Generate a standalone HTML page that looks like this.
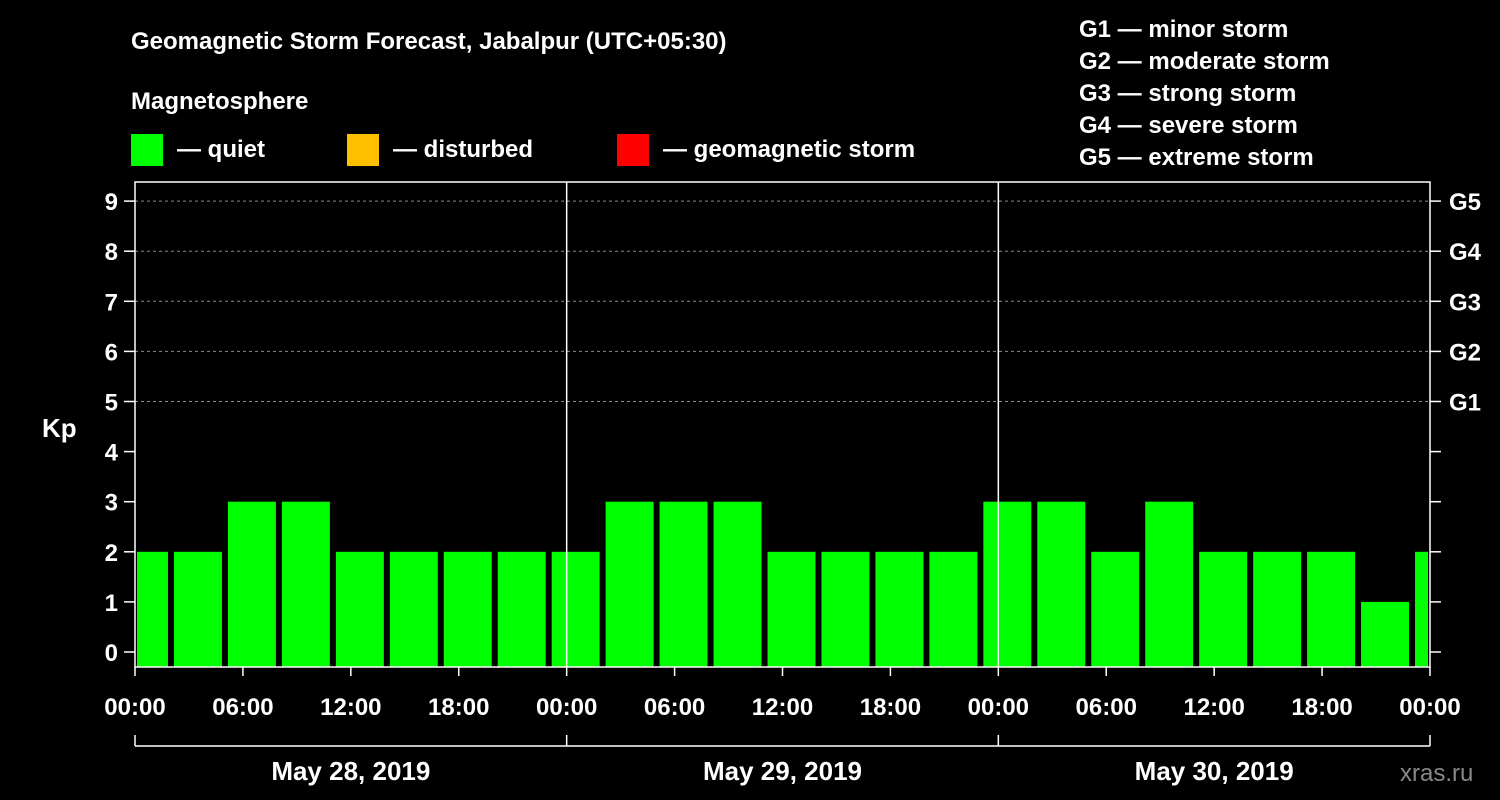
<!DOCTYPE html>
<html><head><meta charset="utf-8"><style>
html,body{margin:0;padding:0;background:#000;}
svg{display:block;font-family:"Liberation Sans",Arial,sans-serif;font-weight:bold;}
</style></head><body>
<svg id="c" width="1500" height="800" viewBox="0 0 1500 800">
<rect width="1500" height="800" fill="#000"/>
<text x="131" y="49" fill="#fff" font-size="24">Geomagnetic Storm Forecast, Jabalpur (UTC+05:30)</text>
<text x="131" y="109" fill="#fff" font-size="24">Magnetosphere</text>
<g><rect x="131" y="134" width="32" height="32" fill="#00ff00"/><text x="177" y="157" fill="#fff" font-size="24">— quiet</text></g>
<g><rect x="347" y="134" width="32" height="32" fill="#ffc000"/><text x="393" y="157" fill="#fff" font-size="24">— disturbed</text></g>
<g><rect x="617" y="134" width="32" height="32" fill="#ff0000"/><text x="663" y="157" fill="#fff" font-size="24">— geomagnetic storm</text></g>
<g fill="#fff" font-size="24">
<text x="1079" y="37">G1 — minor storm</text>
<text x="1079" y="69">G2 — moderate storm</text>
<text x="1079" y="101">G3 — strong storm</text>
<text x="1079" y="133">G4 — severe storm</text>
<text x="1079" y="165">G5 — extreme storm</text>
</g>
<text x="42" y="437" fill="#fff" font-size="26">Kp</text>
<text x="1400" y="781" fill="#888" font-size="24" font-weight="normal">xras.ru</text>
<g id="plot"></g>
</svg>
<script>
const kpValues=[2,2,3,3,2,2,2,2,2,3,3,3,2,2,2,2,3,3,2,3,2,2,2,1,2];
const yTicks=[0,1,2,3,4,5,6,7,8,9];
const gLabels=["G1","G2","G3","G4","G5"];
const xTickLabels=["00:00","06:00","12:00","18:00","00:00","06:00","12:00","18:00","00:00","06:00","12:00","18:00","00:00"];
const dayLabels=["May 28, 2019","May 29, 2019","May 30, 2019"];
const NS="http://www.w3.org/2000/svg";
const g=document.getElementById('plot');
const L=135,R=1430,T=182,B=667;
const pxPerHour=(R-L)/72;
const X=h=>L+h*pxPerHour;
const Y=v=>652-v*50.1;
const firstSlotHour=-1; // first bar slot starts 1h before range (clipped)
function el(t,a,txt){const e=document.createElementNS(NS,t);for(const k in a)e.setAttribute(k,a[k]);if(txt!=null)e.textContent=txt;g.appendChild(e);return e;}
// grid
yTicks.forEach(v=>{
  if(v>=5){const e=el('line',{x1:L,x2:R,y1:Y(v),y2:Y(v),stroke:'#888','stroke-dasharray':'3,3','stroke-width':1});
  
  }
  const t=el('line',{x1:L-11,x2:L,y1:Y(v),y2:Y(v),stroke:'#fff','stroke-width':1.5});
  
  
  const t2=el('line',{x1:R,x2:R+11,y1:Y(v),y2:Y(v),stroke:'#fff','stroke-width':1.5});
  
  
  const lb=el('text',{x:L-17,y:Y(v)+9,fill:'#fff','font-size':24,'text-anchor':'end'},String(v));
  
  
});
gLabels.forEach((s,i)=>{
  const lb=el('text',{x:R+19,y:Y(5+i)+9,fill:'#fff','font-size':24},s);
  
  
});
// bars
kpValues.forEach((v,i)=>{
  let x0=X(firstSlotHour+i*3)+3, x1=X(firstSlotHour+i*3+3)-3;
  x0=Math.max(x0,L+2); x1=Math.min(x1,R-2);
  const r=el('rect',{x:x0,y:Y(v),width:x1-x0,height:B-Y(v),fill:'#00ff00'});
  
  
});
// frame
const f=el('rect',{x:L,y:T,width:R-L,height:B-T,fill:'none',stroke:'#fff','stroke-width':1.5});


[24,48].forEach(h=>{const d=el('line',{x1:X(h),x2:X(h),y1:T,y2:B,stroke:'#fff','stroke-width':1.5});

});
xTickLabels.forEach((s,i)=>{
  const x=X(i*6);
  const t=el('line',{x1:x,x2:x,y1:B,y2:B+9,stroke:'#fff','stroke-width':1.5});
  
  
  const lb=el('text',{x:x,y:715,fill:'#fff','font-size':24,'text-anchor':'middle'},s);
  
  
});
const br=el('line',{x1:L,x2:R,y1:746,y2:746,stroke:'#fff','stroke-width':1.5});


[0,24,48,72].forEach(h=>{const t=el('line',{x1:X(h),x2:X(h),y1:735,y2:746,stroke:'#fff','stroke-width':1.5});

});
dayLabels.forEach((s,i)=>{
  const lb=el('text',{x:X(i*24+12),y:780,fill:'#fff','font-size':26,'text-anchor':'middle'},s);
  
  
});
</script>
</body></html>
